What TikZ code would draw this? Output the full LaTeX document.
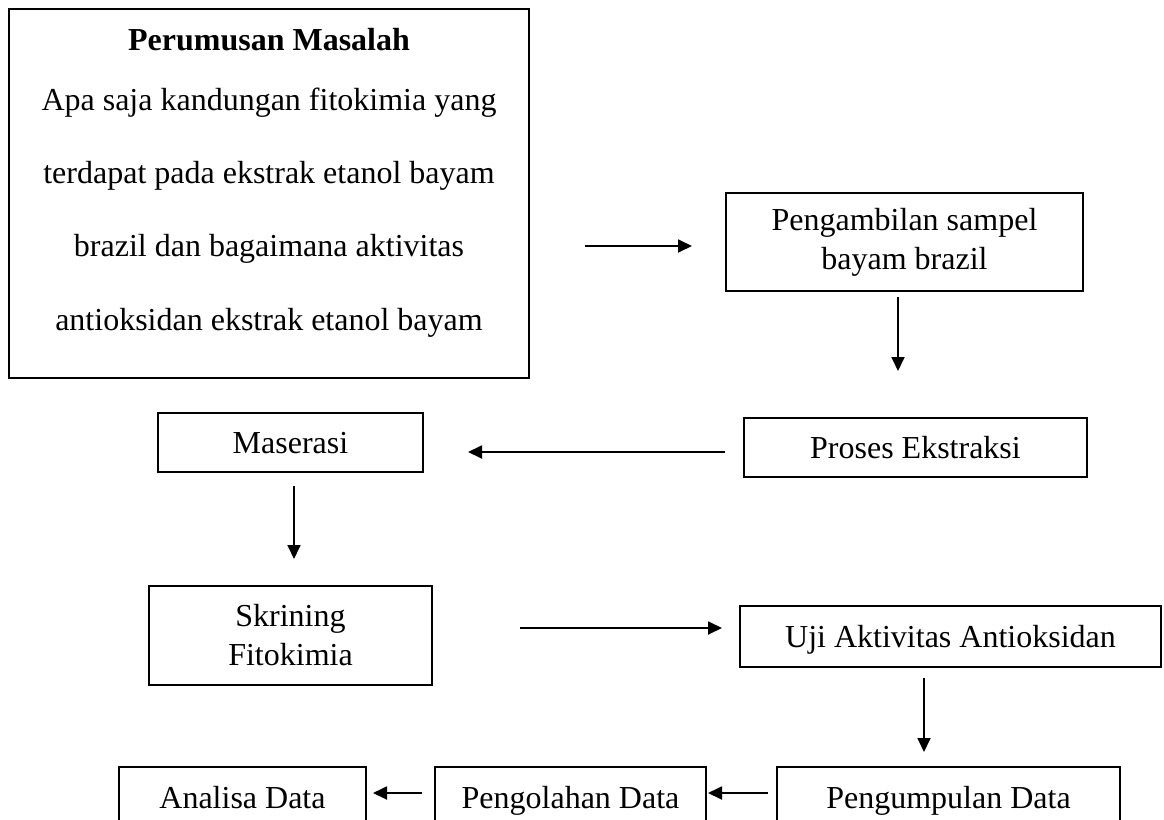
\documentclass[tikz,border=0pt]{standalone}
\usepackage{fontspec}
\setmainfont{Liberation Serif}
\usetikzlibrary{arrows.meta}
\begin{document}
\begin{tikzpicture}[x=0.5pt,y=-0.5pt,
  box/.style={draw, line width=1.1pt, inner sep=0pt, outer sep=0pt, align=center,
    font=\fontsize{16pt}{19.5pt}\selectfont},
  one/.style={text height=10.5pt, text depth=0pt},
  txt/.style={anchor=base, inner sep=0pt, outer sep=0pt, font=\fontsize{16pt}{19.5pt}\selectfont},
  arr/.style={line width=0.9pt, -{Triangle[length=7pt,width=6.5pt]}}]
\useasboundingbox (0,0) rectangle (1164,820);

% big box
\node[box, line width=1.4pt, minimum width=260pt, minimum height=184.5pt] (pm) at (269,193.5) {};
\node[txt] (pm0) at (269,50) {\textbf{Perumusan Masalah}};
\node[txt] (pm1) at (269,110) {Apa saja kandungan fitokimia yang};
\node[txt] (pm2) at (269,183.3) {terdapat pada ekstrak etanol bayam};
\node[txt] (pm3) at (269,256.7) {brazil dan bagaimana aktivitas};
\node[txt] (pm4) at (269,330) {antioksidan ekstrak etanol bayam};

\node[box, minimum width=178.5pt, minimum height=49pt] (pg) at (904.5,242) {Pengambilan sampel\\bayam brazil};
\node[box, one, minimum width=171.5pt, minimum height=29.5pt] (pr) at (915.5,447.5) {Proses Ekstraksi};
\node[box, one, minimum width=132.5pt, minimum height=29.5pt] (ms) at (290.5,442.5) {Maserasi};
\node[box, minimum width=141.5pt, minimum height=49.5pt] (sk) at (290.5,635.5) {Skrining\\Fitokimia};
\node[box, one, minimum width=210.5pt, minimum height=30.5pt] (uj) at (950.5,636.5) {Uji Aktivitas Antioksidan};
\node[box, one, minimum width=171.5pt, minimum height=30.5pt] (pu) at (948.5,797.5) {Pengumpulan Data};
\node[box, one, minimum width=135.5pt, minimum height=30.5pt] (po) at (570.5,797.5) {Pengolahan Data};
\node[box, one, minimum width=123.5pt, minimum height=30.5pt] (an) at (242.5,797.5) {Analisa Data};

% connectors
\draw[arr, shorten <=28pt, shorten >=17pt] ([yshift=-2pt]pm.east |- pg.west) -- ([yshift=-2pt]pg.west);
\draw[arr, shorten <=3pt, shorten >=23.5pt] ([xshift=-3.25pt]pg.south) -- ([xshift=-3.25pt]pg.south |- pr.north);
\draw[arr, shorten <=9.5pt, shorten >=22.5pt] ([yshift=-2.25pt]pr.west) -- ([yshift=-2.25pt]pr.west -| ms.east);
\draw[arr, shorten <=7pt, shorten >=13.5pt] ([xshift=1.75pt]ms.south) -- ([xshift=1.75pt]ms.south |- sk.north);
\draw[arr, shorten <=44pt, shorten >=9pt] ([yshift=3.75pt]sk.east) -- ([yshift=3.75pt]sk.east -| uj.west);
\draw[arr, shorten <=5.5pt, shorten >=7.5pt] ([xshift=-13.25pt]uj.south) -- ([xshift=-13.25pt]uj.south |- pu.north);
\draw[arr, shorten <=4.5pt, shorten >=1pt] ([yshift=2.25pt]pu.west) -- ([yshift=2.25pt]pu.west -| po.east);
\draw[arr, shorten <=6.5pt, shorten >=3.5pt] ([yshift=2.25pt]po.west) -- ([yshift=2.25pt]po.west -| an.east);
\end{tikzpicture}
\end{document}
